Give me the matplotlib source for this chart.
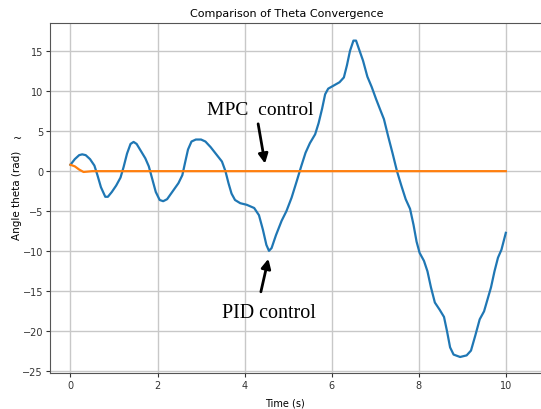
import numpy as np
import matplotlib
matplotlib.use("Agg")
import matplotlib.pyplot as plt

plt.rcParams.update({"font.family": "DejaVu Sans", "font.size": 7})

# PID response (time s, theta rad)
pid_t = [0.00, 0.10, 0.20, 0.27, 0.35, 0.45, 0.55, 0.62, 0.70, 0.80, 0.86, 0.95,
         1.05, 1.15, 1.22, 1.30, 1.38, 1.45, 1.52, 1.62, 1.72, 1.80, 1.88, 1.96,
         2.05, 2.13, 2.22, 2.35, 2.48, 2.57, 2.63, 2.70, 2.78, 2.88, 3.00, 3.10,
         3.22, 3.35, 3.48, 3.56, 3.63, 3.70, 3.78, 3.90, 4.05, 4.22, 4.33, 4.42,
         4.50, 4.56, 4.62, 4.72, 4.85, 4.96, 5.08, 5.20, 5.30, 5.40, 5.50, 5.62,
         5.70, 5.78, 5.85, 5.92, 6.05, 6.18, 6.28, 6.35, 6.42, 6.50, 6.56, 6.63,
         6.72, 6.82, 6.92, 7.02, 7.12, 7.20, 7.30, 7.40, 7.50, 7.60, 7.70, 7.80,
         7.88, 7.95, 8.02, 8.12, 8.20, 8.28, 8.37, 8.48, 8.58, 8.65, 8.72, 8.80,
         8.95, 9.10, 9.20, 9.30, 9.40, 9.50, 9.58, 9.66, 9.74, 9.82, 9.90, 10.00]
pid_y = [0.8, 1.5, 2.0, 2.1, 2.0, 1.5, 0.7, -0.5, -2.0, -3.2, -3.2, -2.6,
         -1.8, -0.8, 0.5, 2.2, 3.4, 3.65, 3.4, 2.5, 1.6, 0.6, -1.0, -2.6,
         -3.6, -3.75, -3.5, -2.5, -1.5, -0.5, 1.0, 2.7, 3.7, 3.95, 3.95, 3.7,
         3.0, 2.1, 1.2, 0.0, -1.5, -2.8, -3.6, -4.0, -4.2, -4.6, -5.5, -7.3,
         -9.2, -9.95, -9.6, -8.0, -6.2, -5.0, -3.3, -1.2, 0.6, 2.3, 3.5, 4.6,
         6.0, 7.8, 9.6, 10.3, 10.7, 11.1, 11.7, 13.2, 15.0, 16.3, 16.3, 15.2,
         13.8, 11.8, 10.5, 9.0, 7.6, 6.5, 4.3, 2.2, 0.0, -1.8, -3.5, -4.7,
         -6.7, -8.8, -10.2, -11.2, -12.5, -14.5, -16.4, -17.3, -18.2, -20.0, -22.0, -22.9,
         -23.2, -23.0, -22.4, -20.5, -18.5, -17.5, -16.0, -14.5, -12.5, -10.8, -9.8, -7.7]

# MPC response
mpc_t = [0.0, 0.1, 0.2, 0.3, 0.4, 0.5, 10.0]
mpc_y = [0.8, 0.6, 0.2, -0.1, -0.05, 0.0, 0.0]

fig = plt.figure(figsize=(5.41, 4.10), dpi=100)
ax = fig.add_axes([0.0924, 0.0878, 0.915, 0.8537])
ax.plot(pid_t, pid_y, color="#1f77b4", lw=1.6)
ax.plot(mpc_t, mpc_y, color="#ff7f0e", lw=1.6)
ax.grid(True, color="#c8c8c8", lw=1.0)
for s in ax.spines.values():
    s.set_color("#555555")
ax.tick_params(length=3, pad=2, colors="#333333", labelsize=7)
ax.set_xlim(-0.47, 10.9)
ax.set_ylim(-25.2, 18.5)
ax.set_xticks([0, 2, 4, 6, 8, 10])
ax.set_yticks([-25, -20, -15, -10, -5, 0, 5, 10, 15])
ax.set_title("Comparison of Theta Convergence", fontsize=8, x=0.479, pad=5)
ax.set_xlabel("Time (s)", fontsize=7)
ax.set_ylabel("Angle theta (rad)", fontsize=7.5)
ax.xaxis.set_label_coords(0.475, -0.083)
ax.yaxis.set_label_coords(-0.066, 0.509)
ax.xaxis.label.set_va("center")
ax.yaxis.label.set_va("center")

serif = ["Liberation Serif", "DejaVu Serif"]
arrow = dict(arrowstyle="-|>", color="k", lw=2, mutation_scale=14)
ax.annotate("", xy=(4.48, 0.6), xytext=(4.3, 6.25), arrowprops=arrow)
ax.annotate("", xy=(4.56, -10.6), xytext=(4.36, -15.4), arrowprops=arrow)
ax.text(4.35, 7.1, "MPC  control", family=serif, fontsize=14, ha="center", va="baseline")
ax.text(4.57, -18.2, "PID control", family=serif, fontsize=14.5, ha="center", va="baseline")
fig.text(17 / 541, 1 - 139 / 410, "~", fontsize=8, ha="center", va="center")

fig.savefig("out.png", dpi=100)
